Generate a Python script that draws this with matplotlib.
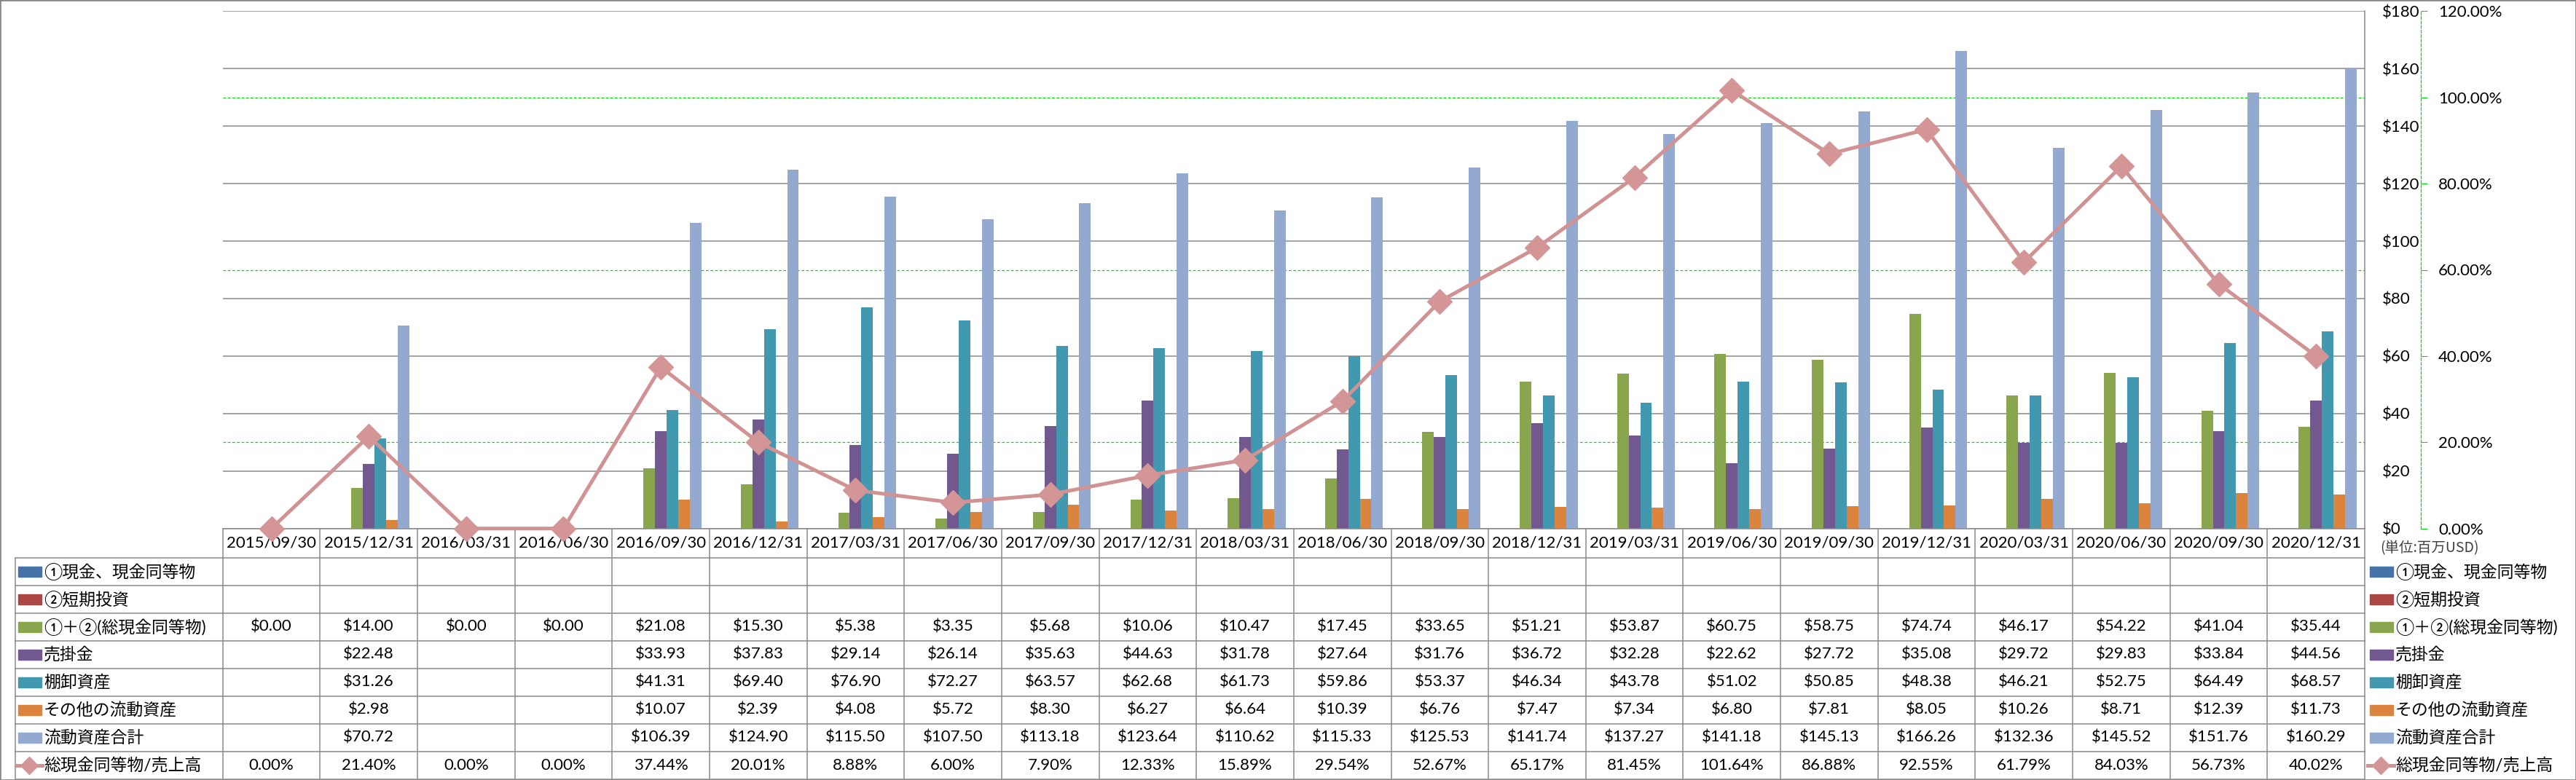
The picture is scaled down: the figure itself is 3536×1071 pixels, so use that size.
import numpy as np
import matplotlib
matplotlib.use("Agg")
import matplotlib.pyplot as plt
import matplotlib.transforms as mtransforms
from matplotlib.lines import Line2D
from matplotlib.patches import Rectangle
from matplotlib.ticker import FixedLocator, FuncFormatter

plt.rcParams['font.family'] = ['Lato', 'Noto Sans CJK JP', 'DejaVu Sans']

W, H = 3536, 1071
DPI = 100
nan = np.nan

# ---- data (百万USD) ----
dates = ["2015/09/30", "2015/12/31", "2016/03/31", "2016/06/30", "2016/09/30", "2016/12/31",
         "2017/03/31", "2017/06/30", "2017/09/30", "2017/12/31", "2018/03/31", "2018/06/30",
         "2018/09/30", "2018/12/31", "2019/03/31", "2019/06/30", "2019/09/30", "2019/12/31",
         "2020/03/31", "2020/06/30", "2020/09/30", "2020/12/31"]
cash = [nan] * 22
short_inv = [nan] * 22
total_cash = [0.00, 14.00, 0.00, 0.00, 21.08, 15.30, 5.38, 3.35, 5.68, 10.06, 10.47, 17.45,
              33.65, 51.21, 53.87, 60.75, 58.75, 74.74, 46.17, 54.22, 41.04, 35.44]
receivable = [nan, 22.48, nan, nan, 33.93, 37.83, 29.14, 26.14, 35.63, 44.63, 31.78, 27.64,
              31.76, 36.72, 32.28, 22.62, 27.72, 35.08, 29.72, 29.83, 33.84, 44.56]
inventory = [nan, 31.26, nan, nan, 41.31, 69.40, 76.90, 72.27, 63.57, 62.68, 61.73, 59.86,
             53.37, 46.34, 43.78, 51.02, 50.85, 48.38, 46.21, 52.75, 64.49, 68.57]
other = [nan, 2.98, nan, nan, 10.07, 2.39, 4.08, 5.72, 8.30, 6.27, 6.64, 10.39,
         6.76, 7.47, 7.34, 6.80, 7.81, 8.05, 10.26, 8.71, 12.39, 11.73]
current_total = [nan, 70.72, nan, nan, 106.39, 124.90, 115.50, 107.50, 113.18, 123.64, 110.62, 115.33,
                 125.53, 141.74, 137.27, 141.18, 145.13, 166.26, 132.36, 145.52, 151.76, 160.29]
ratio = [0.00, 21.40, 0.00, 0.00, 37.44, 20.01, 8.88, 6.00, 7.90, 12.33, 15.89, 29.54,
         52.67, 65.17, 81.45, 101.64, 86.88, 92.55, 61.79, 84.03, 56.73, 40.02]

bar_names = ["①現金、現金同等物", "②短期投資", "①＋②(総現金同等物)", "売掛金",
             "棚卸資産", "その他の流動資産", "流動資産合計"]
line_name = "総現金同等物/売上高"
bar_series = [cash, short_inv, total_cash, receivable, inventory, other, current_total]
bar_colors = ['#4572A7', '#AA4643', '#89A54E', '#71588F', '#4198AF', '#DB843D', '#93A9CF']
line_color = '#D09292'
grid_gray = '#8a8a8a'
green = '#00E000'

def fx(px):
    return px / W

def fy(py):
    return 1 - py / H

fig = plt.figure(figsize=(W / DPI, H / DPI), dpi=DPI)
fig.patch.set_facecolor('white')

# plot area
pl, pr, pt, pb = 305.7, 3246, 15.3, 725.7
ax1 = fig.add_axes([fx(pl), fy(pb), fx(pr) - fx(pl), fy(pt) - fy(pb)])
ax2 = ax1.twinx()

n = len(dates)
x = np.arange(n)
bw = 0.119
for k, (vals, col) in enumerate(zip(bar_series, bar_colors)):
    ax1.bar(x + (k - 3) * bw, np.array(vals, dtype=float), width=bw, color=col, zorder=2)

ax2.plot(x, ratio, color=line_color, lw=3.6, marker='D', ms=17,
         mfc='#D39595', mec='#D39595', clip_on=False, zorder=3)

# primary axis ($) on the right
ax1.set_ylim(0, 180)
ax1.set_xlim(-0.5, n - 0.5)
ax1.set_yticks(np.arange(0, 181, 20))
ax1.yaxis.tick_right()
ax1.yaxis.set_major_formatter(FuncFormatter(lambda v, p: f"${v:.0f}"))
ax1.tick_params(axis='y', which='both', length=0, pad=17, labelsize=16)
ax1.set_xticks([])
ax1.set_axisbelow(True)
ax1.grid(axis='y', which='major', color=grid_gray, lw=1.1)
pct_ticks = np.arange(0, 121, 20)
ax1.yaxis.set_minor_locator(FixedLocator(pct_ticks[1:-1] * 180 / 120))
ax1.grid(axis='y', which='minor', color=green, lw=0.9, ls=(0, (3, 2)))
for s in ['left', 'top']:
    ax1.spines[s].set_visible(False)
ax1.spines['right'].set_color(grid_gray)
ax1.spines['right'].set_linewidth(1.1)
ax1.spines['bottom'].set_color(grid_gray)
ax1.spines['bottom'].set_linewidth(1.1)

# secondary axis (%)
ax2.set_ylim(0, 120)
ax2.set_xlim(-0.5, n - 0.5)
ax2.set_yticks(pct_ticks)
ax2.yaxis.set_major_formatter(FuncFormatter(lambda v, p: f"{v:.2f}%"))
ax2.tick_params(axis='y', length=6.5, width=0.8, color=green, direction='out',
                pad=10.8, labelsize=16, labelcolor='black')
for s in ['left', 'top', 'bottom']:
    ax2.spines[s].set_visible(False)
ax2.spines['right'].set_position(('outward', 77 * 0.72))
ax2.spines['right'].set_color(green)
ax2.spines['right'].set_linewidth(0.9)
ax2.spines['right'].set_linestyle((0, (3, 2)))

fig.text(fx(3267), fy(753), "(単位:百万USD)", fontsize=14, color='#404040',
         ha='left', va='center', family=['Noto Sans CJK JP'])

# ---- data table ----
trans = mtransforms.blended_transform_factory(ax1.transData, fig.transFigure)
row_edges = [pb, 765.7, 803.7, 841.7, 879.7, 917.7, 955.7, 993.7, 1031.7, 1069.5]
tl = 20.7
line_kw = dict(color=grid_gray, lw=1.1)

for i in range(n + 1):
    ax1.add_line(Line2D([i - 0.5, i - 0.5], [fy(row_edges[0]), fy(row_edges[-1])],
                        transform=trans, clip_on=False, **line_kw))
for y in row_edges[1:]:
    fig.add_artist(Line2D([fx(tl), fx(pr)], [fy(y), fy(y)], **line_kw))
fig.add_artist(Line2D([fx(tl), fx(tl)], [fy(row_edges[1]), fy(row_edges[-1])], **line_kw))

centers = [(a + b) / 2 for a, b in zip(row_edges[:-1], row_edges[1:])]
for i, d in enumerate(dates):
    ax1.text(i, fy(centers[0]), d, transform=trans, ha='center', va='center',
             fontsize=16, clip_on=False)

for r, vals in enumerate(bar_series):
    yc = fy(centers[r + 1])
    for i, v in enumerate(vals):
        if not np.isnan(v):
            ax1.text(i, yc, f"${v:.2f}", transform=trans, ha='center', va='center',
                     fontsize=16, clip_on=False)
for i, v in enumerate(ratio):
    ax1.text(i, fy(centers[-1]), f"{v:.2f}%", transform=trans, ha='center', va='center',
             fontsize=16, clip_on=False)

# legend keys: in the table's label column and on the right
def legend_key(x0, yc, k):
    if k < len(bar_colors):
        fig.add_artist(Rectangle((fx(x0), fy(yc + 7)), fx(32), 14 / H,
                                 transform=fig.transFigure, color=bar_colors[k]))
    else:
        fig.add_artist(Line2D([fx(x0 - 3), fx(x0 + 33)], [fy(yc), fy(yc)], color=line_color,
                              lw=3.6, marker=None))
        fig.add_artist(Line2D([fx(x0 + 15)], [fy(yc)], color='#D39595', marker='D', ms=12,
                              lw=0))

all_names = bar_names + [line_name]
for k, name in enumerate(all_names):
    yc = centers[k + 1]
    legend_key(25, yc, k)
    fig.text(fx(60), fy(yc), name, fontsize=16.5, ha='left', va='center')
    legend_key(3253, yc, k)
    fig.text(fx(3288), fy(yc), name, fontsize=16.5, ha='left', va='center')

# outer frame
fig.add_artist(Rectangle((0, 0), 1, 1, transform=fig.transFigure, fill=False,
                         ec=grid_gray, lw=2))

fig.savefig("out.png", dpi=DPI)
